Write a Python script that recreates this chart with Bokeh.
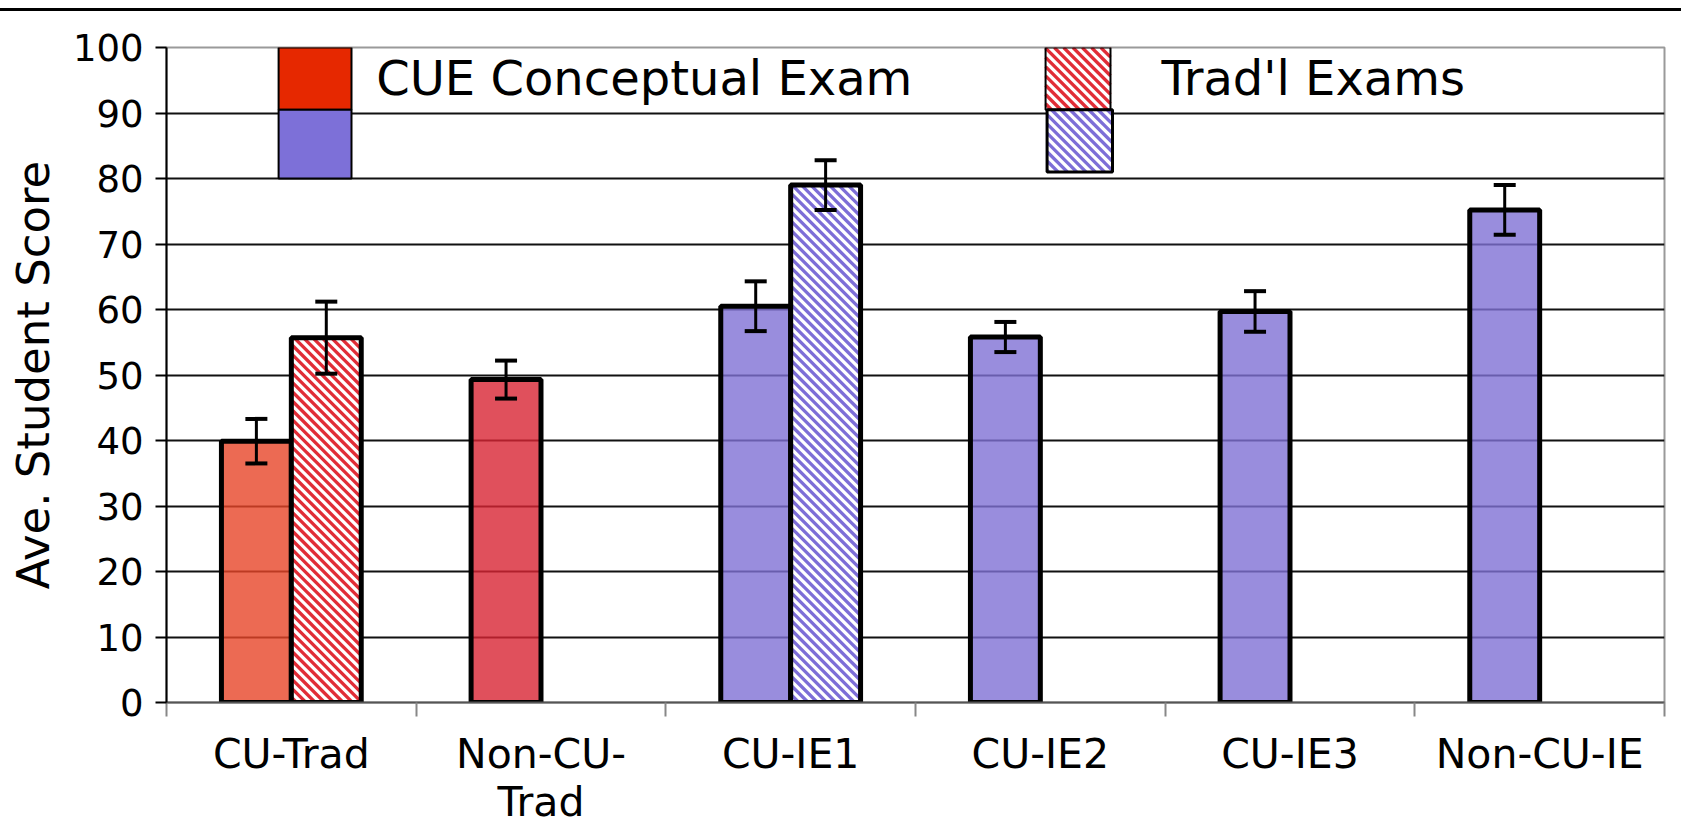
import math
from bokeh.plotting import figure
from bokeh.models import ColumnDataSource, Whisker, FixedTicker, Label, Div, TeeHead, Range1d
from bokeh.layouts import column
from bokeh.embed import file_html
from bokeh.resources import INLINE

# ---------------- data ----------------
categories = ["CU-Trad", "Non-CU-Trad", "CU-IE1", "CU-IE2", "CU-IE3", "Non-CU-IE"]
category_labels = ["CU-Trad", "Non-CU-\nTrad", "CU-IE1", "CU-IE2", "CU-IE3", "Non-CU-IE"]
conceptual = [39.9, 49.3, 60.5, 55.8, 59.7, 75.2]
conceptual_err = [3.4, 2.9, 3.8, 2.3, 3.1, 3.8]
tradl = [55.7, None, 79.0, None, None, None]
tradl_err = [5.5, None, 3.8, None, None, None]
course_type = ["Trad", "Trad", "IE", "IE", "IE", "IE"]
y_ticks = [0, 10, 20, 30, 40, 50, 60, 70, 80, 90, 100]

# ---------------- styles / layout ----------------
FONT = "DejaVu Sans"
conc_colors = {"CU-Trad": "#E74528", "Non-CU-Trad": "#D82433"}   # drawn at alpha .8
ie_color = "#8071D5"
hatch_colors = {"Trad": "#E12D37", "IE": "#7D6ED7"}
BAR_W = 0.28
OFF = 0.14
FIG_W, FIG_H = 1673, 817
B_LEFT, B_TOP, B_RIGHT = 166, 36, 9
FRAME_W, FRAME_H = FIG_W - B_LEFT - B_RIGHT, 656
Y_MIN, Y_MAX = 0, 100
SX = FRAME_W / len(categories)        # px per x unit
SY = FRAME_H / (Y_MAX - Y_MIN)        # px per y unit
HATCH_PERIOD = 9.3                    # px, horizontal period of the 45deg stripes
HATCH_WEIGHT = 3.3


def stripes(left, right, bottom, top, color, out):
    """45-degree '\\' stripes filling a rectangle (screen-space spacing)."""
    L, R, B, T = left * SX, right * SX, bottom * SY, top * SY
    k0 = math.floor((L + B) / HATCH_PERIOD)
    k1 = math.ceil((R + T) / HATCH_PERIOD)
    for k in range(k0, k1 + 1):
        c = k * HATCH_PERIOD
        a = max(L, c - T)
        b = min(R, c - B)
        if b - a > 0.05:
            out["x0"].append(a / SX)
            out["y0"].append((c - a) / SY)
            out["x1"].append(b / SX)
            out["y1"].append((c - b) / SY)
            out["c"].append(color)


conc_x = [i + 0.5 - OFF for i in range(len(categories))]
conc_fill = [conc_colors.get(c, ie_color) for c in categories]
conc_src = ColumnDataSource(dict(
    x=conc_x, top=conceptual, fill=conc_fill,
    upper=[v + e for v, e in zip(conceptual, conceptual_err)],
    lower=[v - e for v, e in zip(conceptual, conceptual_err)],
))

seg = dict(x0=[], y0=[], x1=[], y1=[], c=[])
tx, tt, tu, tl = [], [], [], []
for i, (v, e) in enumerate(zip(tradl, tradl_err)):
    if v is None:
        continue
    xc = i + 0.5 + OFF
    tx.append(xc)
    tt.append(v)
    tu.append(v + e)
    tl.append(v - e)
    stripes(xc - BAR_W / 2, xc + BAR_W / 2, 0, v, hatch_colors[course_type[i]], seg)
trad_src = ColumnDataSource(dict(x=tx, top=tt, upper=tu, lower=tl))

# legend swatch geometry (data coords inside the frame)
leg_l = dict(left=[0.449, 0.449], right=[0.741, 0.741], bottom=[90.5, 80.0], top=[100.0, 90.5],
             fill=["#E62800", "#7D70D8"])
leg_r = dict(left=[3.521, 3.527], right=[3.781, 3.789], bottom=[90.5, 81.0], top=[100.0, 90.5],
             lw=[2, 3])
for j, ct in enumerate(["Trad", "IE"]):
    stripes(leg_r["left"][j], leg_r["right"][j], leg_r["bottom"][j], leg_r["top"][j],
            hatch_colors[ct], seg)
seg_src = ColumnDataSource(seg)

p = figure(width=FIG_W, height=FIG_H, output_backend="svg", toolbar_location=None,
           x_range=Range1d(0, len(categories)), y_range=Range1d(Y_MIN, Y_MAX),
           min_border_left=B_LEFT, min_border_top=B_TOP, min_border_right=B_RIGHT,
           min_border_bottom=FIG_H - B_TOP - FRAME_H)
p.background_fill_color = "white"
p.border_fill_color = "white"
p.outline_line_color = "#9a9a9a"
p.outline_line_width = 2

# grid
p.xgrid.visible = False
p.ygrid.ticker = FixedTicker(ticks=y_ticks[1:-1])
p.ygrid.grid_line_color = "#111111"
p.ygrid.grid_line_width = 2

# solid conceptual bars
p.vbar(x="x", top="top", bottom=0, width=BAR_W, source=conc_src,
       fill_color="fill", fill_alpha=0.8, line_color="black", line_width=5)

# hatched bars + hatched legend swatches: white fill, stripes, outline
p.vbar(x="x", top="top", bottom=0, width=BAR_W, source=trad_src,
       fill_color="white", line_color=None)
p.quad(left=leg_r["left"], right=leg_r["right"], bottom=leg_r["bottom"], top=leg_r["top"],
       fill_color="white", line_color=None)
p.segment(x0="x0", y0="y0", x1="x1", y1="y1", source=seg_src, line_color="c",
          line_width=HATCH_WEIGHT, line_cap="butt")
p.vbar(x="x", top="top", bottom=0, width=BAR_W, source=trad_src,
       fill_color=None, line_color="black", line_width=5)
p.quad(left=leg_r["left"], right=leg_r["right"], bottom=leg_r["bottom"], top=leg_r["top"],
       fill_color=None, line_color="black", line_width=leg_r["lw"])

# solid legend swatches
p.quad(left=leg_l["left"], right=leg_l["right"], bottom=leg_l["bottom"], top=leg_l["top"],
       fill_color=leg_l["fill"], line_color="black", line_width=2)

for src in (conc_src, trad_src):
    w = Whisker(source=src, base="x", upper="upper", lower="lower",
                line_color="black", line_width=3,
                upper_head=TeeHead(size=22, line_width=4, line_color="black"),
                lower_head=TeeHead(size=22, line_width=4, line_color="black"))
    w.level = "overlay"
    p.add_layout(w)

p.add_layout(Label(x=0.84, y=95.4, text="CUE Conceptual Exam", text_font=FONT,
                   text_font_size="48px", text_baseline="middle", text_color="black"))
p.add_layout(Label(x=3.985, y=95.4, text="Trad'l Exams", text_font=FONT,
                   text_font_size="48px", text_baseline="middle", text_color="black"))

# x axis: boundary ticks (minor), category names at centres (major)
xa = p.xaxis[0]
xa.ticker = FixedTicker(ticks=[i + 0.5 for i in range(len(categories))],
                        minor_ticks=list(range(len(categories) + 1)))
xa.major_label_overrides = {i + 0.5: lab for i, lab in enumerate(category_labels)}
xa.major_tick_out = 0
xa.major_tick_in = 0
xa.minor_tick_out = 14
xa.minor_tick_in = 0
xa.minor_tick_line_color = "#888888"
xa.minor_tick_line_width = 2
xa.axis_line_color = "#555555"
xa.axis_line_width = 2
xa.major_label_standoff = 13
xa.major_label_text_font = FONT
xa.major_label_text_font_size = "41px"
xa.major_label_text_line_height = 1.0
xa.major_label_text_color = "black"

# y axis
ya = p.yaxis[0]
ya.ticker = FixedTicker(ticks=y_ticks)
ya.major_tick_out = 11
ya.major_tick_in = 0
ya.minor_tick_out = 0
ya.minor_tick_in = 0
ya.major_tick_line_color = "black"
ya.major_tick_line_width = 2
ya.axis_line_color = "black"
ya.axis_line_width = 2
ya.major_label_standoff = 12
ya.major_label_text_font = FONT
ya.major_label_text_font_size = "37px"
ya.major_label_text_color = "black"
ya.axis_label = "Ave. Student Score"
ya.axis_label_text_font = FONT
ya.axis_label_text_font_size = "45px"
ya.axis_label_text_font_style = "normal"
ya.axis_label_text_color = "black"
ya.axis_label_standoff = 10

top_rule = Div(text="", width=1681, height=3, margin=(8, 0, 0, 0),
               styles={"background-color": "black"})

layout = column(top_rule, p, spacing=0)
open("out.html", "w").write(file_html(layout, INLINE))
